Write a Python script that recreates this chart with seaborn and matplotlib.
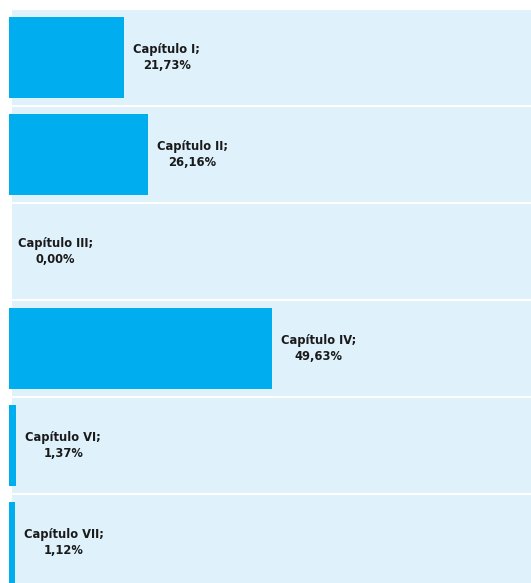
import matplotlib
matplotlib.use("Agg")
import matplotlib.pyplot as plt
import matplotlib.transforms as mtransforms
import pandas as pd
import seaborn as sns

capitulos = ["Capítulo I", "Capítulo II", "Capítulo III", "Capítulo IV", "Capítulo VI", "Capítulo VII"]
porcentajes = [21.73, 26.16, 0.00, 49.63, 1.37, 1.12]

BAR_COLOR = "#00aeef"
BAND_COLOR = "#dff1fb"
TEXT_COLOR = "#1a1a1a"

df = pd.DataFrame({"capitulo": capitulos, "pct": porcentajes})

sns.set_style("white")
plt.rcParams["font.family"] = ["DejaVu Sans"]

fig = plt.figure(figsize=(5.31, 5.83), dpi=100)
ax = fig.add_axes([9 / 531, -8 / 583, 522 / 531, 582 / 583])

xmax = 98.5
# background bands, one per row
for i in range(len(capitulos)):
    ax.barh(i, xmax, left=0.57, height=0.98, color=BAND_COLOR, linewidth=0, zorder=0)

sns.barplot(data=df, x="pct", y="capitulo", orient="h", color=BAR_COLOR,
            width=0.825, linewidth=0, saturation=1, ax=ax, zorder=2)

offset = mtransforms.offset_copy(ax.transData, fig=fig, x=9, y=0, units="dots")
for i, (cap, val) in enumerate(zip(capitulos, porcentajes)):
    label = "{};\n{}%".format(cap, "{:.2f}".format(val).replace(".", ","))
    ax.text(val, i, label, transform=offset, ha="left", va="center",
            multialignment="center", fontsize=8.3, fontweight="bold",
            color=TEXT_COLOR, linespacing=1.3, zorder=3)

ax.set_xlim(0, xmax)
ax.set_ylim(len(capitulos) - 0.5, -0.5)
ax.set_axis_off()

fig.savefig("out.png", dpi=100, facecolor="white")
